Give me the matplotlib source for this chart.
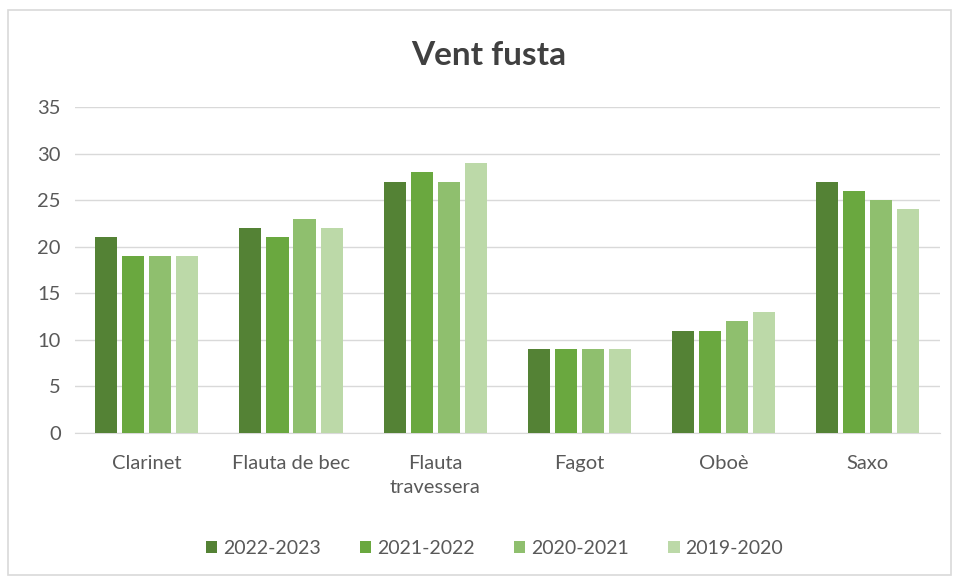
import numpy as np
import matplotlib
matplotlib.use("Agg")
import matplotlib.pyplot as plt
from matplotlib.patches import Rectangle

plt.rcParams['font.family'] = ['Lato', 'DejaVu Sans']

# data
categories = ['Clarinet', 'Flauta de bec', 'Flauta\ntravessera', 'Fagot', 'Oboè', 'Saxo']
seasons = ['2022-2023', '2021-2022', '2020-2021', '2019-2020']
v_2022_2023 = [21, 22, 27, 9, 11, 27]
v_2021_2022 = [19, 21, 28, 9, 11, 26]
v_2020_2021 = [19, 23, 27, 9, 12, 25]
v_2019_2020 = [19, 22, 29, 9, 13, 24]
series = [v_2022_2023, v_2021_2022, v_2020_2021, v_2019_2020]
colors = ['#548235', '#6aa83f', '#8fbf6e', '#bcd9a8']

fig = plt.figure(figsize=(9.58, 5.8), dpi=100)
ax = fig.add_axes([0.078, 0.2534, 0.903, 0.5621])

x = np.arange(len(categories))
step = 0.1875
width = 0.153
for i, (vals, col) in enumerate(zip(series, colors)):
    ax.bar(x + (i - 1.5) * step, vals, width, color=col, label=seasons[i], zorder=3)

ax.set_xlim(-0.5, len(categories) - 0.5)
ax.set_ylim(0, 35)
ax.set_yticks(range(0, 36, 5))
ax.yaxis.grid(True, color='#d9d9d9', linewidth=1, zorder=0)
for s in ['top', 'right', 'left']:
    ax.spines[s].set_visible(False)
ax.spines['bottom'].set_color('#d9d9d9')
ax.tick_params(axis='both', length=0, labelsize=14.5, colors='#595959')
ax.tick_params(axis='y', pad=10)
ax.set_xticks(x)
ax.set_xticklabels(categories, va='top', linespacing=1.5)
ax.tick_params(axis='x', pad=16)

fig.text(0.51, 0.905, 'Vent fusta', ha='center', va='center',
         fontsize=24, fontweight='bold', color='#404040')

leg = fig.legend(loc='center', bbox_to_anchor=(0.516, 0.055), ncol=4, frameon=False,
                 fontsize=14, handlelength=0.6, handleheight=0.6, handletextpad=0.3,
                 columnspacing=2.0, labelcolor='#595959')

# light border around the chart area
fig.patches.append(Rectangle((0.008, 0.008), 0.985, 0.975, transform=fig.transFigure,
                             fill=False, edgecolor='#d9d9d9', linewidth=1.2))

fig.savefig('out.png', dpi=100)
